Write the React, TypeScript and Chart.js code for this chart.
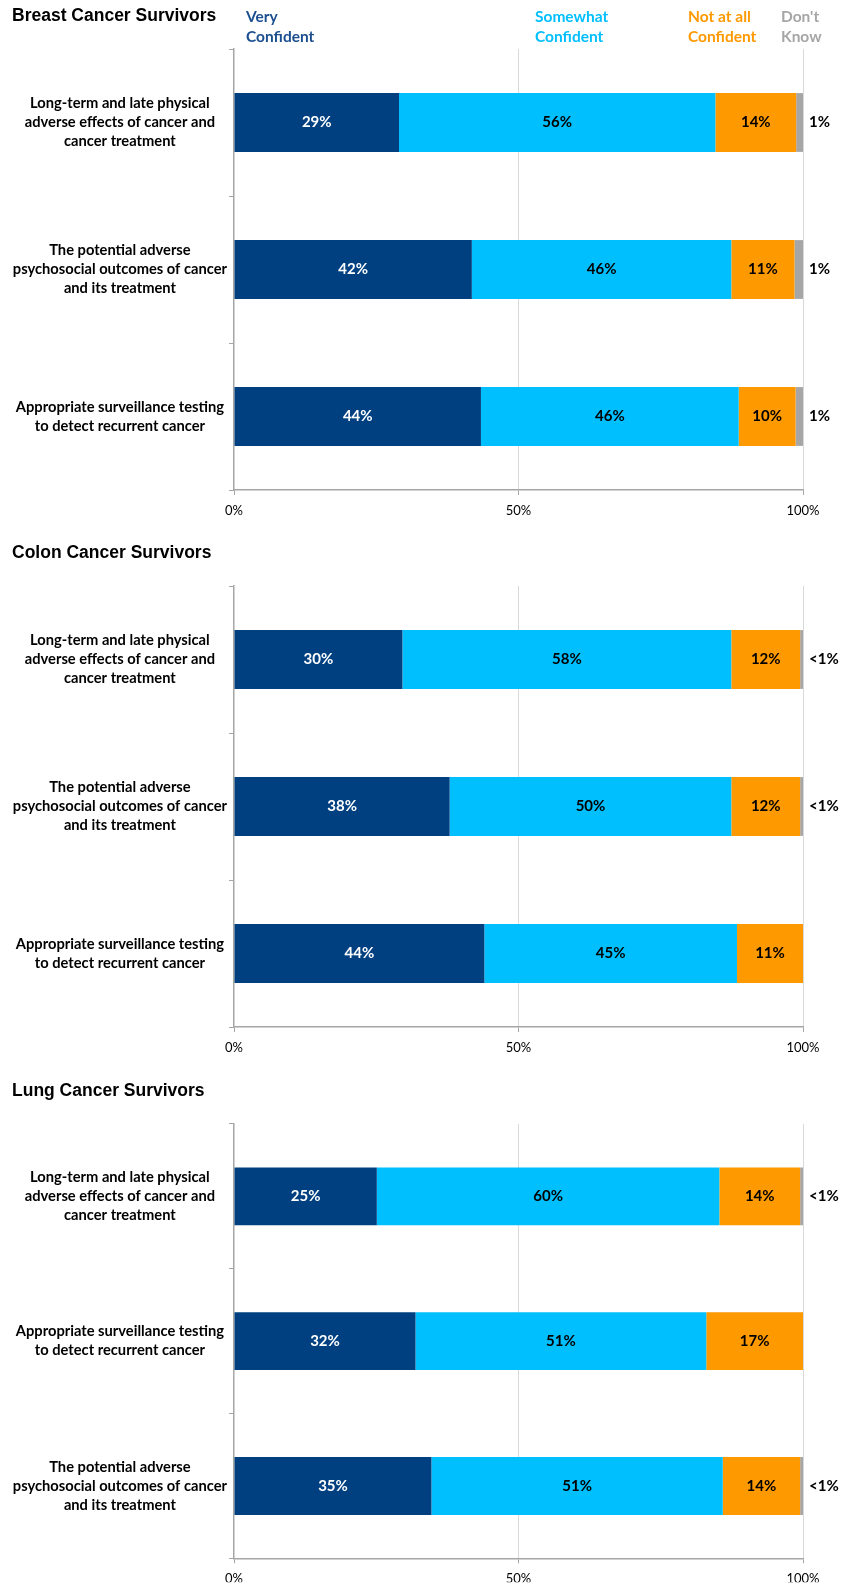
import React, { useEffect, useRef } from "react";
import { Chart, registerables } from "chart.js";

Chart.register(...registerables);

// ---------- data ----------
const seriesNames = ["Very Confident", "Somewhat Confident", "Not at all Confident", "Don't Know"];
const legendLines = [["Very", "Confident"], ["Somewhat", "Confident"], ["Not at all", "Confident"], ["Don't", "Know"]];
const xTickValues = [0, 50, 100];

const panelTitles = ["Breast Cancer Survivors", "Colon Cancer Survivors", "Lung Cancer Survivors"];

const catPhysical = ["Long-term and late physical", "adverse effects of cancer and", "cancer treatment"];
const catPsychosocial = ["The potential adverse", "psychosocial outcomes of cancer", "and its treatment"];
const catSurveillance = ["Appropriate surveillance testing", "to detect recurrent cancer"];

const breastCategories = [catPhysical, catPsychosocial, catSurveillance];
const colonCategories = [catPhysical, catPsychosocial, catSurveillance];
const lungCategories = [catPhysical, catSurveillance, catPsychosocial];

// Breast
const breastVery = [29.0, 41.8, 43.4];
const breastSomewhat = [55.6, 45.6, 45.3];
const breastNotAtAll = [14.2, 11.1, 10.0];
const breastDontKnow = [1.2, 1.5, 1.3];
const breastVeryLabels = ["29%", "42%", "44%"];
const breastSomewhatLabels = ["56%", "46%", "46%"];
const breastNotAtAllLabels = ["14%", "11%", "10%"];
const breastDontKnowLabels = ["1%", "1%", "1%"];

// Colon
const colonVery = [29.6, 37.9, 44.0];
const colonSomewhat = [57.8, 49.5, 44.4];
const colonNotAtAll = [12.1, 12.1, 11.6];
const colonDontKnow = [0.5, 0.5, 0];
const colonVeryLabels = ["30%", "38%", "44%"];
const colonSomewhatLabels = ["58%", "50%", "45%"];
const colonNotAtAllLabels = ["12%", "12%", "11%"];
const colonDontKnowLabels = ["<1%", "<1%", ""];

// Lung
const lungVery = [25.1, 31.9, 34.7];
const lungSomewhat = [60.2, 51.1, 51.2];
const lungNotAtAll = [14.2, 17.0, 13.6];
const lungDontKnow = [0.5, 0, 0.5];
const lungVeryLabels = ["25%", "32%", "35%"];
const lungSomewhatLabels = ["60%", "51%", "51%"];
const lungNotAtAllLabels = ["14%", "17%", "14%"];
const lungDontKnowLabels = ["<1%", "", "<1%"];

// ---------- styles ----------
const seriesColors = ["#004080", "#00BFFF", "#FF9900", "#A6A6A6"];
const legendTextColors = ["#1B4F8F", "#00BFFF", "#FF9900", "#A6A6A6"];
const valueTextColors = ["#FFFFFF", "#000000", "#000000", "#000000"];
const legendX = [246, 535, 688, 781];
const CANVAS_W = 849;
const AREA_BOTTOM = 490;

type PanelProps = {
  title: string;
  categories: string[][];
  values: number[][];
  labels: string[][];
  height: number;
  showLegend: boolean;
};

function Panel({ title, categories, values, labels, height, showLegend }: PanelProps) {
  const ref = useRef<HTMLCanvasElement | null>(null);

  useEffect(() => {
    if (!ref.current) return;

    const valueLabelPlugin = {
      id: "valueLabels",
      afterDatasetsDraw(chart: any) {
        const ctx = chart.ctx;
        const area = chart.chartArea;
        ctx.save();
        ctx.font = "bold 15px Lato, 'DejaVu Sans', sans-serif";
        ctx.textBaseline = "middle";
        chart.data.datasets.forEach((ds: any, i: number) => {
          const meta = chart.getDatasetMeta(i);
          meta.data.forEach((bar: any, j: number) => {
            const text = labels[i][j];
            if (!text) return;
            ctx.fillStyle = valueTextColors[i];
            if (i === 3) {
              ctx.textAlign = "left";
              ctx.fillText(text, area.right + 6, bar.y);
            } else {
              ctx.textAlign = "center";
              ctx.fillText(text, (bar.x + bar.base) / 2, bar.y);
            }
          });
        });
        ctx.restore();
      },
    };

    const legendPlugin = {
      id: "topLegend",
      afterDraw(chart: any) {
        if (!showLegend) return;
        const ctx = chart.ctx;
        ctx.save();
        ctx.font = "bold 15.5px Lato, 'DejaVu Sans', sans-serif";
        ctx.textBaseline = "middle";
        ctx.textAlign = "left";
        legendLines.forEach((lines, i) => {
          ctx.fillStyle = legendTextColors[i];
          lines.forEach((line, k) => {
            ctx.fillText(line, legendX[i], 17 + k * 20);
          });
        });
        ctx.restore();
      },
    };

    const chart = new Chart(ref.current, {
      type: "bar",
      data: {
        labels: categories,
        datasets: seriesNames.map((name, i) => ({
          label: name,
          data: values[i],
          backgroundColor: seriesColors[i],
          borderWidth: 0,
          barPercentage: 0.4,
          categoryPercentage: 1,
        })),
      },
      options: {
        indexAxis: "y",
        responsive: false,
        animation: false,
        layout: { padding: { left: 12, right: 46, top: 0, bottom: 0 } },
        plugins: {
          legend: { display: false },
          tooltip: { enabled: false },
          title: {
            display: true,
            text: title,
            align: "start",
            color: "#000000",
            font: { family: "'Liberation Sans', Arial, sans-serif", size: 17.5, weight: "bold", lineHeight: 1.2 },
            padding: { top: 6, bottom: 22 },
          },
        },
        scales: {
          x: {
            stacked: true,
            min: 0,
            max: 100,
            afterBuildTicks: (scale: any) => {
              scale.ticks = xTickValues.map((v) => ({ value: v }));
            },
            ticks: {
              callback: (v: any) => v + "%",
              color: "#000000",
              font: { family: "Lato, sans-serif", size: 13 },
              padding: 8,
              maxRotation: 0,
            },
            grid: {
              color: (c: any) => (c.index === 0 ? "rgba(0,0,0,0)" : "#D9D9D9"),
              tickColor: "#A6A6A6",
              tickLength: 5,
              lineWidth: 1,
            },
            border: { color: "#A6A6A6", width: 1.5 },
            afterFit: (scale: any) => {
              scale.height = height - AREA_BOTTOM;
            },
          },
          y: {
            stacked: true,
            ticks: {
              crossAlign: "center",
              color: "#000000",
              font: { family: "Lato, sans-serif", size: 14.7, weight: "bold", lineHeight: 1.3 },
              padding: 2,
              autoSkip: false,
            },
            grid: { drawOnChartArea: false, color: "#A6A6A6", tickLength: 5 },
            border: { color: "#A6A6A6", width: 1.5 },
            afterFit: (scale: any) => {
              scale.width = 222;
            },
          },
        },
      },
      plugins: [valueLabelPlugin, legendPlugin],
    } as any);

    return () => chart.destroy();
  }, [title, categories, values, labels, height, showLegend]);

  return <canvas ref={ref} width={CANVAS_W} height={height} style={{ display: "block" }} />;
}

export default function App() {
  return (
    <div style={{ width: CANVAS_W, background: "#FFFFFF" }}>
      <style>{`body{margin:0;background:#fff;}`}</style>
      <Panel
        title={panelTitles[0]}
        categories={breastCategories}
        values={[breastVery, breastSomewhat, breastNotAtAll, breastDontKnow]}
        labels={[breastVeryLabels, breastSomewhatLabels, breastNotAtAllLabels, breastDontKnowLabels]}
        height={537}
        showLegend={true}
      />
      <Panel
        title={panelTitles[1]}
        categories={colonCategories}
        values={[colonVery, colonSomewhat, colonNotAtAll, colonDontKnow]}
        labels={[colonVeryLabels, colonSomewhatLabels, colonNotAtAllLabels, colonDontKnowLabels]}
        height={538}
        showLegend={false}
      />
      <Panel
        title={panelTitles[2]}
        categories={lungCategories}
        values={[lungVery, lungSomewhat, lungNotAtAll, lungDontKnow]}
        labels={[lungVeryLabels, lungSomewhatLabels, lungNotAtAllLabels, lungDontKnowLabels]}
        height={514}
        showLegend={false}
      />
    </div>
  );
}
